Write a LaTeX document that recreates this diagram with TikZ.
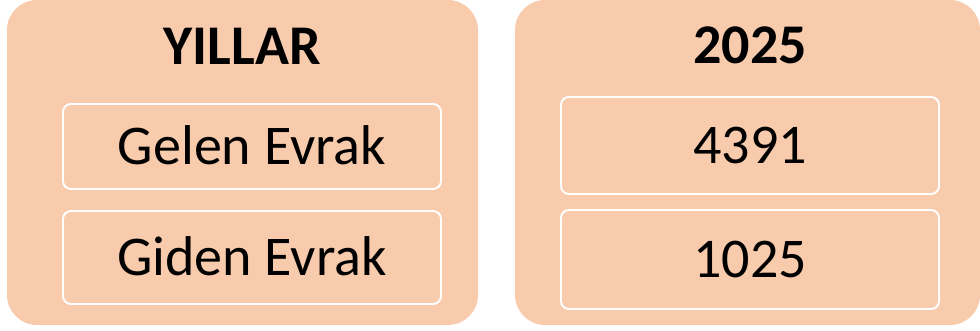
\documentclass[tikz,border=0pt]{standalone}
\usepackage{fontspec}
\setmainfont{Carlito}
\usepackage{tikz}
\definecolor{peach}{HTML}{F8CBAD}

\begin{document}
\begin{tikzpicture}[outer/.style = {fill=peach, rounded corners=0.6cm, inner sep=0pt},
        inner/.style = {draw=white, line width=1.1pt, fill=peach, rounded corners=0.16cm, minimum width=7.56cm, inner sep=0pt, text height=0.72cm, text depth=0pt, font=\fontsize{31.9}{38}\selectfont},
        title/.style = {inner sep=0pt, text height=0.72cm, text depth=0pt, font=\fontsize{31.9}{38}\selectfont\bfseries}]
        \useasboundingbox (0,0) rectangle (19.6,6.62);
        \node[outer, minimum width=9.42cm, minimum height=6.5cm] (left) at (4.85,3.37) {};
        \node[outer, minimum width=9.3cm, minimum height=6.5cm] (right) at (14.95,3.37) {};
        \node[title] (yillar) at (4.84,5.68) {YILLAR};
        \node[title] (year) at (15.0,5.70) {2025};
        \node[inner, minimum height=1.70cm] (gelen) at (5.04,3.69) {Gelen Evrak};
        \node[inner, minimum height=1.86cm] (giden) at (5.04,1.47) {Giden Evrak};
        \node[inner, minimum height=1.94cm] (n1) at (15.0,3.71) {4391};
        \node[inner, minimum height=1.98cm] (n2) at (15.0,1.43) {1025};
    \end{tikzpicture}
\end{document}
